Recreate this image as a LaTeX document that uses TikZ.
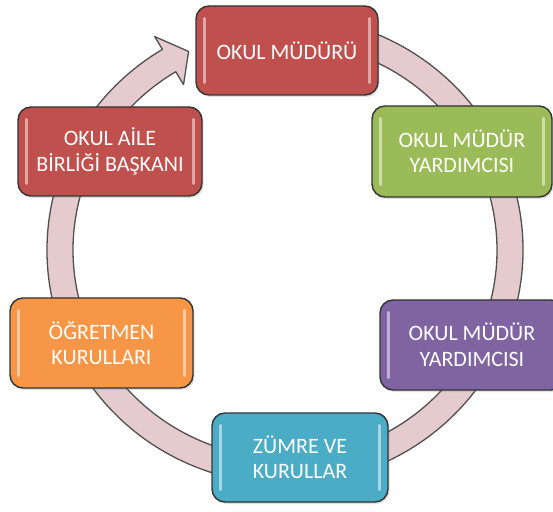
\documentclass[tikz,border=0pt]{standalone}
\usepackage{fontspec}
\setmainfont{Carlito}
\usetikzlibrary{calc,shadows}
\definecolor{ringfill}{HTML}{E5CBCD}
\definecolor{ringline}{HTML}{505050}
\definecolor{cred}{HTML}{C0504D}
\definecolor{cgreen}{HTML}{9BBB59}
\definecolor{cpurple}{HTML}{8064A2}
\definecolor{ccyan}{HTML}{4BACC6}
\definecolor{corange}{HTML}{F79646}
\tikzset{
  stagebox/.style={draw=black!80, line width=1.4pt, rounded corners=13pt,
    inner sep=0pt,
    drop shadow={opacity=0.25, shadow xshift=1.5pt, shadow yshift=-2pt}},
  stagetext/.style={text=white, align=center, font=\fontsize{22}{25.5}\selectfont},
  gloss/.style={line width=2.6pt, line cap=round, draw=white, opacity=0.5},
  ringstyle/.style={fill=ringfill, draw=ringline, line width=1.3pt, line join=round}
}
\newcommand{\stage}[6]{% name, x, y, w, h, colour
  \node[stagebox, fill=#6, minimum width=#4pt, minimum height=#5pt] (#1) at (#2,#3) {};
  \draw[gloss] ($(#1.north west)+(9,-13)$) -- ($(#1.south west)+(9,13)$);
  \draw[gloss] ($(#1.north east)+(-9,-13)$) -- ($(#1.south east)+(-9,13)$);
}
\begin{document}
\begin{tikzpicture}[x=1pt,y=1pt]
\useasboundingbox (0,0) rectangle (553,511);
\coordinate (C) at (285,261);
% ring with arrow head
\path[ringstyle]
  ($(C)+(-239:238 and 234)$)
  arc[start angle=-239, end angle=95, x radius=238, y radius=234]
  -- ($(C)+(95:212 and 208)$)
  arc[start angle=95, end angle=-239, x radius=212, y radius=208]
  -- ($(C)+(-239:197 and 193)$)
  -- ($(C)+(-244.5:224 and 220)$)
  -- ($(C)+(-239:253 and 249)$)
  -- cycle;
% boxes
\stage{mudur}{287}{460.5}{182}{89}{cred}
\node[stagetext] (t1) at (mudur) {OKUL MÜDÜRÜ};
\stage{yard1}{462}{359.5}{180}{91}{cgreen}
\node[stagetext] (t2) at (yard1) {OKUL MÜDÜR\\YARDIMCISI};
\stage{yard2}{472}{166}{184}{90}{cpurple}
\node[stagetext] (t3) at (yard2) {OKUL MÜDÜR\\YARDIMCISI};
\stage{zumre}{300}{53.5}{176}{89}{ccyan}
\node[stagetext] (t4) at (zumre) {ZÜMRE VE\\KURULLAR};
\stage{ogret}{101.5}{168}{183}{90}{corange}
\node[stagetext] (t5) at (ogret) {ÖĞRETMEN\\KURULLARI};
\stage{aile}{110}{359.5}{184}{89}{cred}
\node[stagetext] (t6) at (aile) {OKUL AİLE\\BİRLİĞİ BAŞKANI};
\end{tikzpicture}
\end{document}
